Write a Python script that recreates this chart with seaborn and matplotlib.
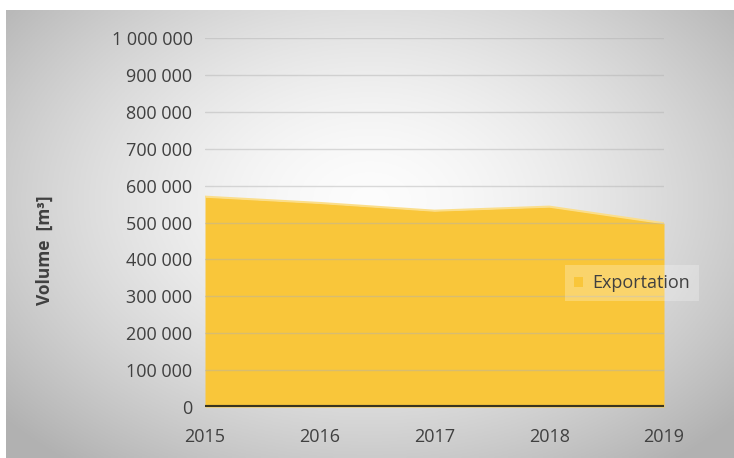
import numpy as np
import pandas as pd
import matplotlib
matplotlib.use("Agg")
import matplotlib.pyplot as plt
import matplotlib.ticker as mticker
from matplotlib.patches import Patch
import seaborn as sns

# data
years = [2015, 2016, 2017, 2018, 2019]
exportation = [570000, 553000, 532000, 543000, 498000]
series_name = "Exportation"
y_label = "Volume  [m³]"

df = pd.DataFrame({"year": years, "volume": exportation})

sns.set_style("white")
plt.rcParams["font.family"] = ["Open Sans", "DejaVu Sans"]

fill_col = "#F9C63A"
text_col = "#404040"

fig = plt.figure(figsize=(7.34, 4.58), dpi=100)

# gray radial-ish gradient background frame
bg = fig.add_axes([6 / 734, 0, 728 / 734, 448 / 458])
xx, yy = np.meshgrid(np.linspace(-1, 1, 300), np.linspace(-1, 1, 200))
r = np.sqrt((xx * 0.9) ** 2 + ((yy + 0.15) * 0.8) ** 2)
shade = 0.99 - 0.22 * np.clip(r, 0, 1.2) ** 1.6
bg.imshow(np.dstack([shade] * 3), aspect="auto", extent=[0, 1, 0, 1])
bg.set_axis_off()

ax = fig.add_axes([205 / 734, 51 / 458, 459 / 734, 369 / 458])
ax.patch.set_alpha(0)

ax.fill_between(df["year"], df["volume"], color=fill_col, lw=0, zorder=1)
sns.lineplot(data=df, x="year", y="volume", ax=ax, color="#FBDE8A", lw=1.5, zorder=2)
ax.axhline(0, color="#3a3520", lw=3, zorder=4)

ax.set_xlim(2015, 2019)
ax.set_ylim(0, 1000000)
ax.set_xticks(years)
ax.yaxis.set_major_locator(mticker.MultipleLocator(100000))
ax.yaxis.set_major_formatter(
    mticker.FuncFormatter(lambda v, p: f"{int(v):,}".replace(",", " "))
)
ax.grid(axis="y", color="#b0b0b0", lw=1, alpha=0.45, zorder=3)
ax.set_axisbelow(False)
for s in ax.spines.values():
    s.set_visible(False)
ax.tick_params(axis="both", length=0, labelsize=13, labelcolor=text_col)
ax.tick_params(axis="y", pad=9)
ax.tick_params(axis="x", pad=15)
ax.set_xlabel("")
ax.set_ylabel(y_label, fontsize=12.5, fontweight="bold", color=text_col)
ax.yaxis.set_label_coords(-0.33, 0.425)

handle = Patch(facecolor=fill_col, edgecolor="none")
leg = ax.legend([handle], [series_name], loc="center left",
                bbox_to_anchor=(0.765, 0.335), frameon=True, fontsize=13,
                handlelength=0.5, handleheight=0.5, handletextpad=0.5,
                borderpad=0.5, fancybox=False)
leg.get_frame().set_facecolor("white")
leg.get_frame().set_alpha(0.25)
leg.get_frame().set_edgecolor("none")
for t in leg.get_texts():
    t.set_color(text_col)

fig.savefig("out.png", dpi=100)
